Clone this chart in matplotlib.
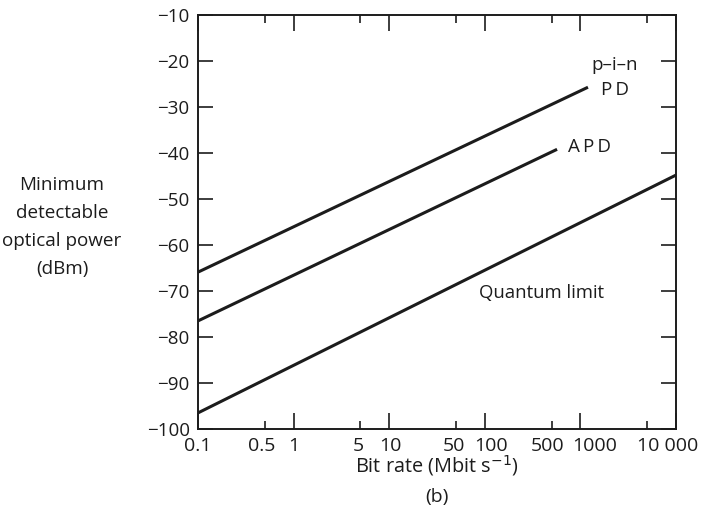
import numpy as np
import matplotlib.pyplot as plt
from matplotlib.ticker import FixedLocator, NullLocator

plt.rcParams['font.family'] = ['Open Sans', 'DejaVu Sans']

# bit rate (Mbit/s) and minimum detectable power (dBm) at line ends
pin_x = [0.1, 1200]
pin_y = [-65.9, -25.7]
apd_x = [0.1, 570]
apd_y = [-76.5, -39.2]
ql_x = [0.1, 10000]
ql_y = [-96.5, -44.8]

major_x = [0.1, 1, 10, 100, 1000, 10000]
minor_x = [0.5, 5, 50, 500, 5000]
xtick_pos = [0.1, 0.5, 1, 5, 10, 50, 100, 500, 1000, 10000]
xtick_lab = ['0.1', '0.5', '1', '5', '10', '50', '100', '500', '1000', '10 000']
yticks = list(range(-100, 0, 10))

# small horizontal nudges (points) of x tick labels, as in the original
xtick_nudge = [0, -2, 0, -1.5, 0.7, -1.5, 4.3, -3, 10, -5.8]

ink = '#1c1c1c'

fig = plt.figure(figsize=(7.05, 5.14), dpi=100)
ax = fig.add_axes([198/705, 1 - 429/514, 478/705, 414/514])

lw = 2.2
ax.plot(pin_x, pin_y, color=ink, lw=lw, solid_capstyle='butt')
ax.plot(apd_x, apd_y, color=ink, lw=lw, solid_capstyle='butt')
ax.plot(ql_x, ql_y, color=ink, lw=lw, solid_capstyle='butt')

ax.set_xscale('log')
ax.set_xlim(0.1, 10000)
ax.set_ylim(-100, -10)

ax.xaxis.set_major_locator(FixedLocator(major_x))
ax.xaxis.set_minor_locator(FixedLocator(minor_x))
ax.xaxis.set_major_formatter(plt.NullFormatter())
ax.xaxis.set_minor_formatter(plt.NullFormatter())
ax.set_yticks(yticks)
ax.yaxis.set_minor_locator(NullLocator())

ax.tick_params(axis='x', which='major', direction='in', length=11.5, width=1.2,
               top=True, bottom=True, color=ink)
ax.tick_params(axis='x', which='minor', direction='in', length=5.8, width=1.2,
               top=True, bottom=True, color=ink)
ax.tick_params(axis='y', which='major', direction='in', length=11, width=1.2,
               left=True, right=True, labelsize=13.5, pad=6, color=ink,
               labelcolor=ink)

for s in ax.spines.values():
    s.set_linewidth(1.4)
    s.set_color(ink)

for xv, lab, dx in zip(xtick_pos, xtick_lab, xtick_nudge):
    ax.annotate(lab, (xv, -100), xytext=(dx, -6), textcoords='offset points',
                ha='center', va='top', fontsize=14, color=ink)

ax.text(2300, -20.9, 'p\u2013i\u2013n', ha='center', va='center', fontsize=13.5, color=ink)
ax.text(2300, -26.3, 'P\u2009D', ha='center', va='center', fontsize=13.5, color=ink)
ax.text(1260, -38.7, 'A\u2009P\u2009D', ha='center', va='center', fontsize=13.5, color=ink)
ax.text(396, -70.4, 'Quantum limit', ha='center', va='center', fontsize=13.3, color=ink)

fig.text(62/705, 1 - 227/514, 'Minimum\ndetectable\noptical power\n(dBm)',
         ha='center', va='center', fontsize=13.6, linespacing=1.7, color=ink)
fig.text(437/705, 1 - 466/514, 'Bit rate (Mbit s$^{-1}$)', ha='center', va='center',
         fontsize=14.3, color=ink)
fig.text(437/705, 1 - 497/514, '(b)', ha='center', va='center', fontsize=14, color=ink)

fig.savefig('out.png', dpi=100)
